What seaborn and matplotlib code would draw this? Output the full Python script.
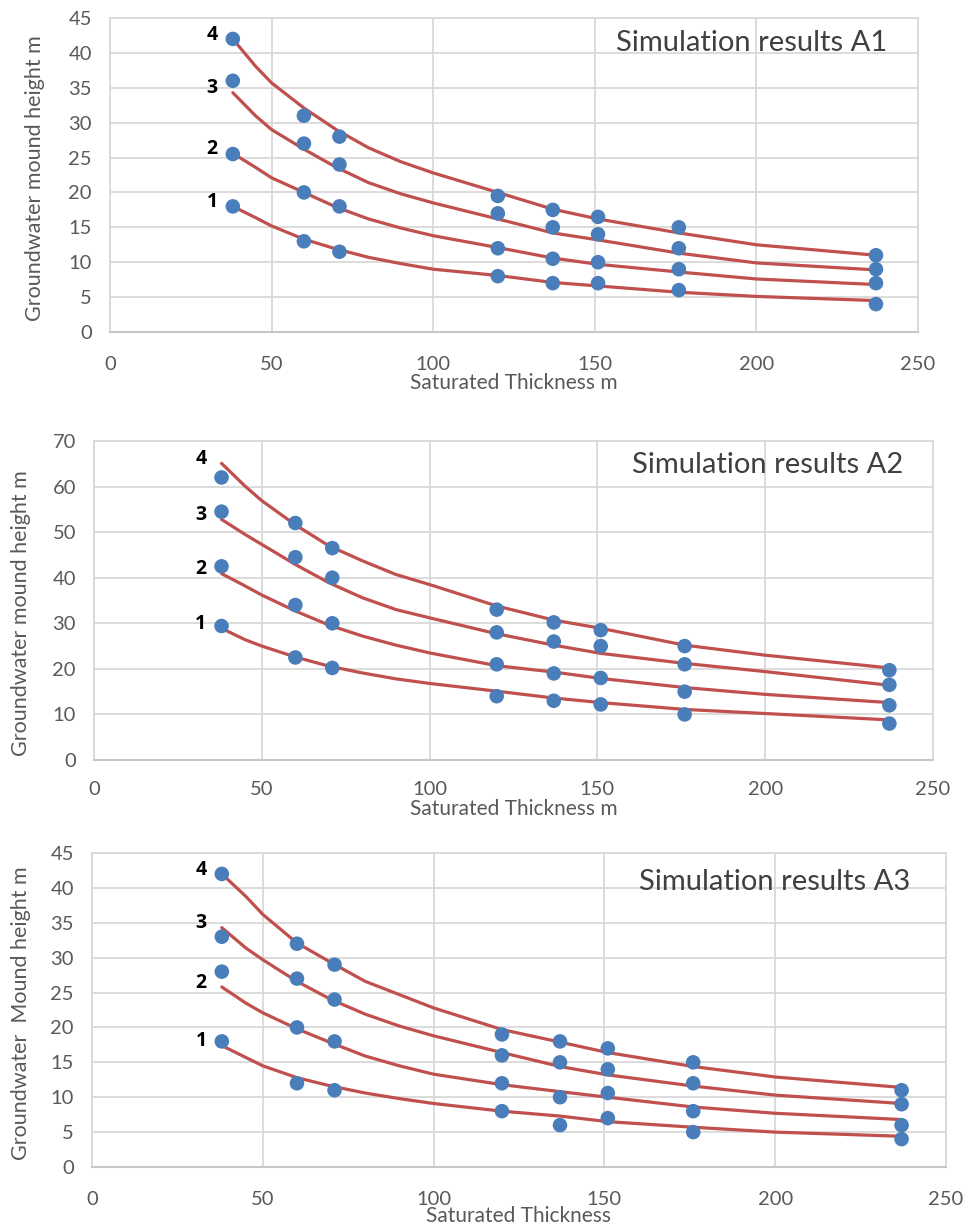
import matplotlib
matplotlib.use("Agg")
import matplotlib.pyplot as plt
import seaborn as sns
import pandas as pd

# ---------------- data ----------------
x_points = [38, 60, 71, 120, 137, 151, 176, 237]
x_curve = [38, 45, 50, 60, 70, 80, 90, 100, 120, 137, 151, 176, 200, 237]
series_labels = ["1", "2", "3", "4"]

# Panel A1 - simulated points
a1_s1 = [18, 13, 11.5, 8, 7, 7, 6, 4]
a1_s2 = [25.5, 20, 18, 12, 10.5, 10, 9, 7]
a1_s3 = [36, 27, 24, 17, 15, 14, 12, 9]
a1_s4 = [42, 31, 28, 19.5, 17.5, 16.5, 15, 11]
# Panel A1 - fitted curves
a1_c1 = [18, 16.4, 15.2, 13.3, 11.9, 10.7, 9.8, 9.0, 8.1, 7.1, 6.6, 5.7, 5.1, 4.5]
a1_c2 = [25.6, 23.6, 22.1, 20.0, 17.9, 16.2, 14.9, 13.8, 12.1, 10.6, 9.7, 8.6, 7.6, 6.8]
a1_c3 = [34.3, 31.0, 29.0, 26.2, 23.6, 21.4, 19.8, 18.5, 16.2, 14.2, 13.2, 11.3, 9.9, 8.9]
a1_c4 = [42, 38.1, 35.7, 32.1, 29.0, 26.4, 24.4, 22.8, 20.0, 17.6, 16.2, 14.2, 12.5, 11.0]

# Panel A2 - simulated points
a2_s1 = [29.4, 22.5, 20.2, 14, 13, 12.2, 10, 8]
a2_s2 = [42.5, 34, 30, 21, 19, 18, 15, 12]
a2_s3 = [54.5, 44.5, 40, 28, 26, 25, 21, 16.5]
a2_s4 = [62, 52, 46.5, 33, 30.2, 28.5, 25, 19.7]
# Panel A2 - fitted curves
a2_c1 = [28.9, 26.4, 25.0, 22.6, 20.6, 19.1, 17.8, 16.8, 15.1, 13.6, 12.6, 11.1, 10.2, 8.8]
a2_c2 = [40.9, 38.2, 36.2, 32.7, 29.6, 27.2, 25.2, 23.5, 20.7, 19.3, 17.9, 15.9, 14.4, 12.6]
a2_c3 = [52.8, 49.5, 47.3, 42.9, 38.9, 35.6, 33.0, 31.2, 27.7, 25.2, 23.4, 21.2, 19.4, 16.4]
a2_c4 = [65.1, 60.1, 56.9, 51.6, 47.0, 43.7, 40.7, 38.5, 33.8, 30.7, 28.9, 25.2, 23.0, 20.2]

# Panel A3 - simulated points
a3_s1 = [18, 12, 11, 8, 6, 7, 5, 4]
a3_s2 = [28, 20, 18, 12, 10, 10.6, 8, 6]
a3_s3 = [33, 27, 24, 16, 15, 14, 12, 9]
a3_s4 = [42, 32, 29, 19, 18, 17, 15, 11]
# Panel A3 - fitted curves
a3_c1 = [17.4, 15.7, 14.5, 12.8, 11.6, 10.6, 9.8, 9.1, 8.0, 7.3, 6.5, 5.7, 5.0, 4.4]
a3_c2 = [25.8, 23.5, 22.1, 19.8, 17.8, 15.9, 14.5, 13.3, 11.8, 10.8, 10.0, 8.6, 7.7, 6.8]
a3_c3 = [34.3, 31.4, 29.7, 26.6, 24.0, 21.9, 20.2, 18.8, 16.4, 14.4, 13.2, 11.6, 10.3, 9.1]
a3_c4 = [42.0, 38.8, 36.2, 32.1, 29.3, 26.6, 24.7, 22.8, 19.7, 17.9, 16.4, 14.4, 12.9, 11.4]

titles = ["Simulation results A1", "Simulation results A2", "Simulation results A3"]
xlabels = ["Saturated Thickness m", "Saturated Thickness m", "Saturated Thickness"]
ylabels = ["Groundwater mound height m", "Groundwater mound height m", "Groundwater  Mound height m"]
ymax = [45, 70, 45]
ystep = [5, 10, 5]
xticks = [0, 50, 100, 150, 200, 250]

# ---------------- style ----------------
sns.set_style("white")
plt.rcParams["font.family"] = ["Lato", "DejaVu Sans"]

GRID = "#d9d9d9"
TXT = "#595959"
BLUE = "#4a7ebb"
RED = "#c0504d"

W, H = 979, 1229
fig = plt.figure(figsize=(W / 100, H / 100), dpi=100)

# axes rectangles in pixels: left, right, top, bottom
rects = [(110, 918, 18, 332), (94, 933, 441, 760), (92, 946, 853, 1167)]
title_pos = [(0.962, 0.92), (0.965, 0.925), (0.958, 0.908)]
ylabel_pos = [(-0.080, 0.49), (-0.075, 0.46), (-0.071, 0.49)]
xtick_pad = [17, 15, 17]
xlabel_pad = [0, 1, -1]

panels = [
    ([a1_s1, a1_s2, a1_s3, a1_s4], [a1_c1, a1_c2, a1_c3, a1_c4]),
    ([a2_s1, a2_s2, a2_s3, a2_s4], [a2_c1, a2_c2, a2_c3, a2_c4]),
    ([a3_s1, a3_s2, a3_s3, a3_s4], [a3_c1, a3_c2, a3_c3, a3_c4]),
]

for i, (pts, curves) in enumerate(panels):
    l, r, t, b = rects[i]
    ax = fig.add_axes([l / W, 1 - b / H, (r - l) / W, (b - t) / H])

    pts_df = pd.DataFrame({
        "x": x_points * 4,
        "y": [v for s in pts for v in s],
        "series": [lab for lab in series_labels for _ in x_points],
    })
    cur_df = pd.DataFrame({
        "x": x_curve * 4,
        "y": [v for c in curves for v in c],
        "series": [lab for lab in series_labels for _ in x_curve],
    })

    sns.lineplot(data=cur_df, x="x", y="y", units="series", estimator=None,
                 sort=False, color=RED, linewidth=2.3, ax=ax, zorder=3)
    sns.scatterplot(data=pts_df, x="x", y="y", color=BLUE, s=110,
                    edgecolor="none", ax=ax, zorder=4)

    # series number labels
    for k, lab in enumerate(series_labels):
        ax.annotate(lab, (x_curve[0], curves[k][0]), xytext=(-15, 3),
                    textcoords="offset points", ha="center", va="center",
                    fontsize=14, fontweight="bold", color="black", zorder=5,
                    family=["Open Sans", "DejaVu Sans"])

    ax.set_xlim(0, 250)
    ax.set_ylim(0, ymax[i])
    ax.set_xticks(xticks)
    ax.set_yticks(list(range(0, ymax[i] + 1, ystep[i])))
    ax.grid(True, color=GRID, linewidth=1.3)
    ax.set_axisbelow(True)
    for side in ["top", "right", "left"]:
        ax.spines[side].set_color(GRID)
        ax.spines[side].set_linewidth(1.3)
    ax.spines["bottom"].set_color("#c8c8c8")
    ax.spines["bottom"].set_linewidth(1.5)
    ax.tick_params(axis="both", length=0, labelsize=14.5, labelcolor=TXT)
    ax.tick_params(axis="x", pad=xtick_pad[i])
    ax.tick_params(axis="y", pad=13)
    ax.set_xlabel(xlabels[i], fontsize=15, color=TXT, labelpad=xlabel_pad[i])
    ax.set_ylabel(ylabels[i], fontsize=15.5, color=TXT)
    ax.yaxis.set_label_coords(*ylabel_pos[i])
    ax.text(title_pos[i][0], title_pos[i][1], titles[i], transform=ax.transAxes,
            ha="right", va="center", fontsize=21, color="#404040", zorder=6)

fig.savefig("out.png", dpi=100)
